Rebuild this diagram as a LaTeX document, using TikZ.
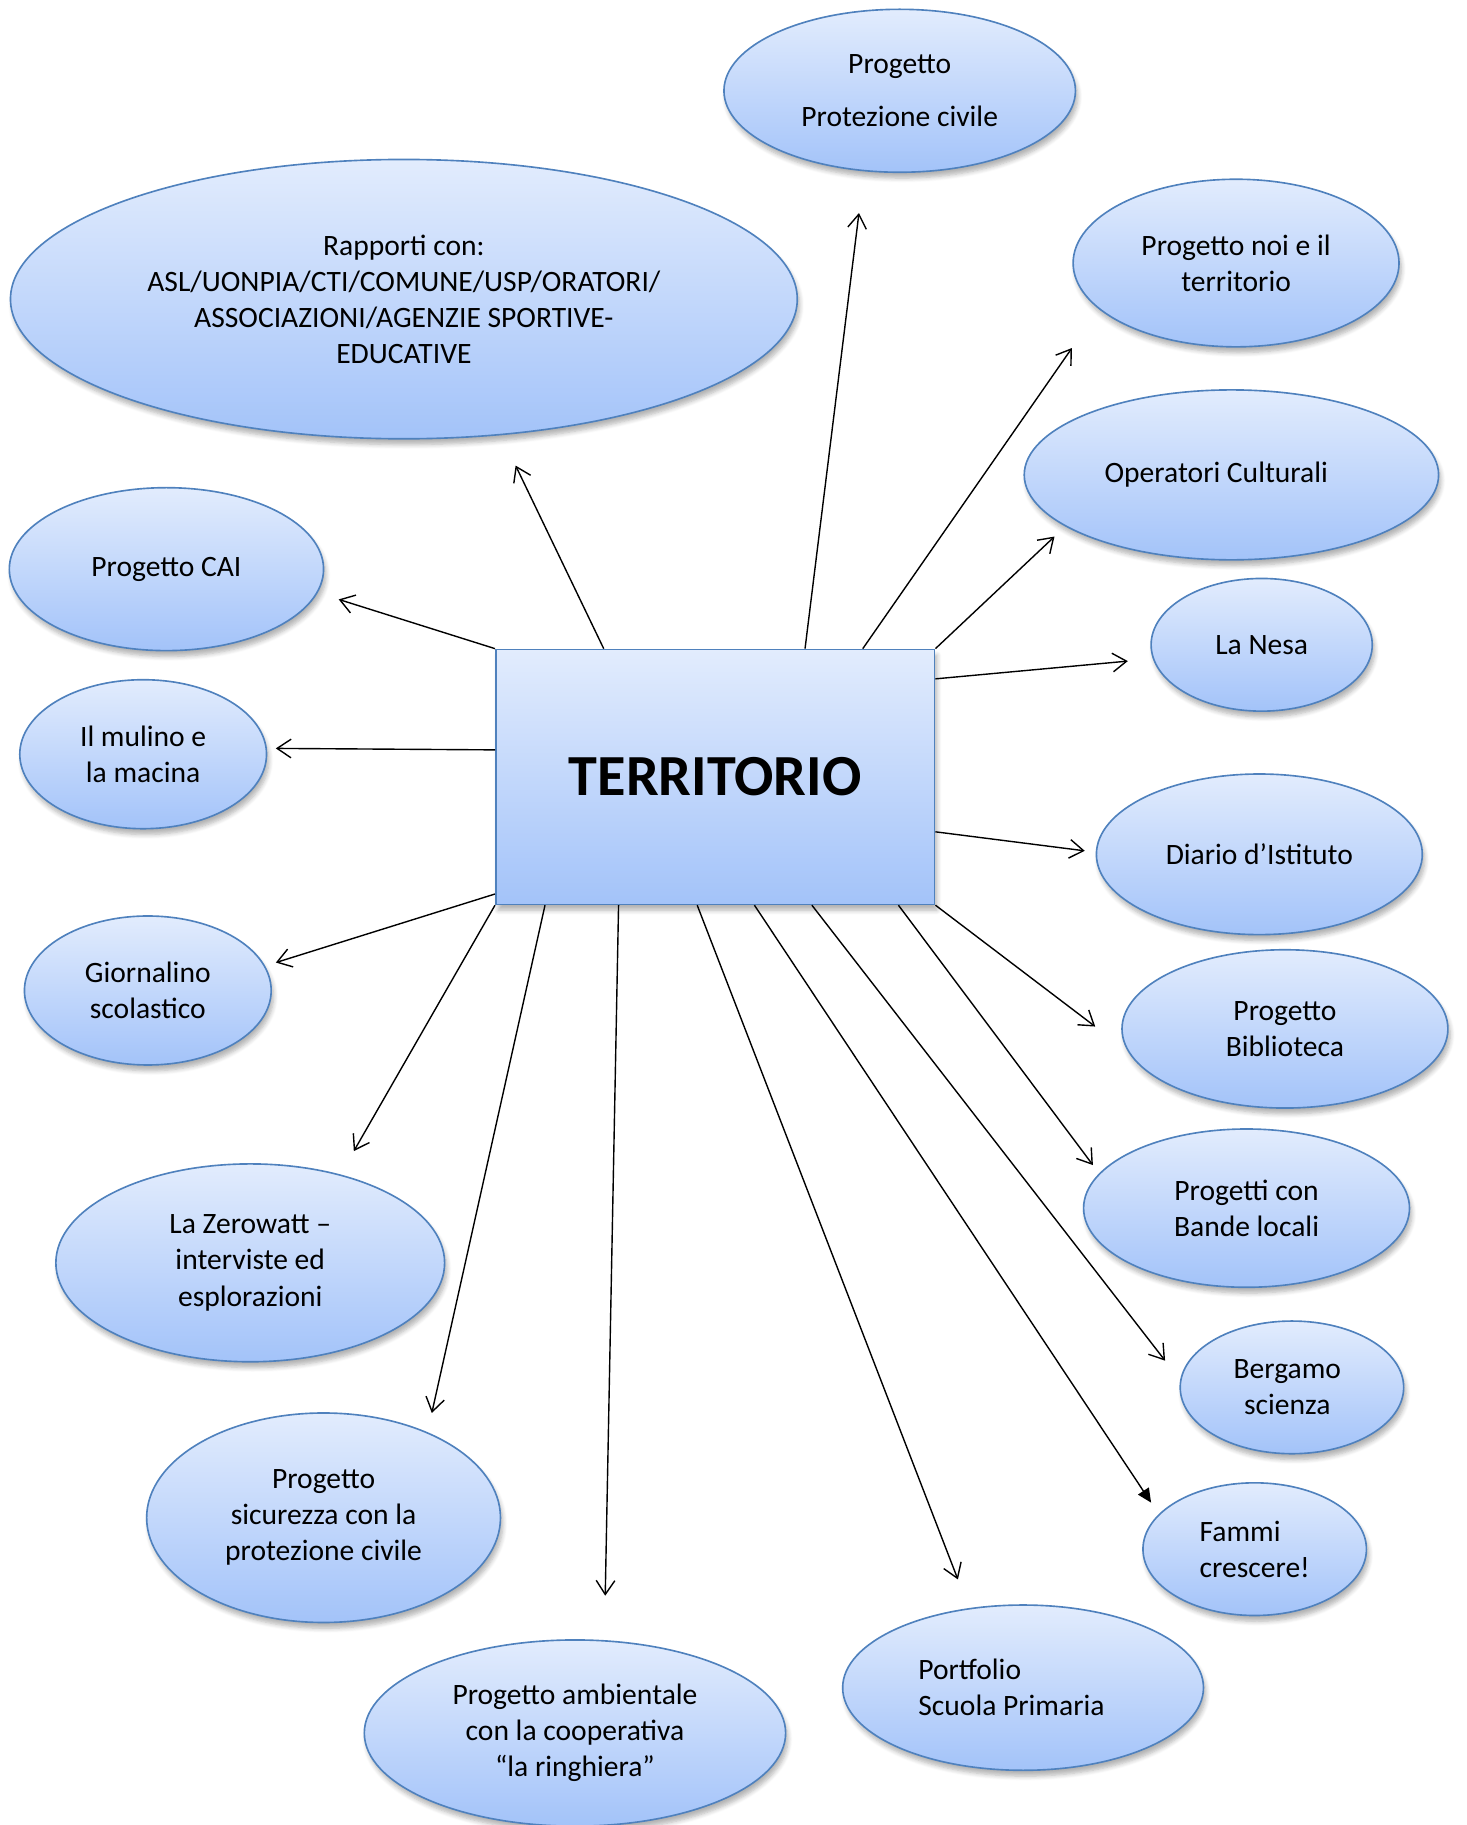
\documentclass[tikz,border=0pt]{standalone}
\usepackage{fontspec}
\setmainfont{Carlito}
\usepackage{tikz}
\usetikzlibrary{shapes.geometric,arrows.meta,shadows.blur}

\definecolor{bubtop}{RGB}{226,236,253}
\definecolor{bubbot}{RGB}{163,195,249}
\definecolor{bubline}{RGB}{79,129,189}

\begin{document}
\begin{tikzpicture}[x=0.5pt, y=-0.5pt,
  bubble/.style={ellipse, draw=bubline, line width=0.7pt, top color=bubtop, bottom color=bubbot,
                 inner sep=0pt, align=center, font=\fontsize{12.7}{15.5}\selectfont,
                 blur shadow={shadow xshift=1pt, shadow yshift=-2.5pt, shadow blur steps=6, shadow opacity=30}},
  hub/.style={rectangle, draw=bubline, line width=0.7pt, top color=bubtop, bottom color=bubbot,
              minimum width=188.5pt, minimum height=109.5pt, inner sep=0pt,
              font=\fontsize{25}{30}\selectfont\bfseries,
              blur shadow={shadow xshift=1pt, shadow yshift=-2.5pt, shadow blur steps=6, shadow opacity=30}},
  arr/.style={-{Straight Barb[length=6pt,width=8pt]}, line width=0.6pt},
  arrf/.style={-{Triangle[length=6pt,width=5.5pt]}, line width=0.6pt}
]
\useasboundingbox (0,0) rectangle (1260,1568);

\node[hub] (terr) at (614.5,667.5) {TERRITORIO};

\node[bubble, minimum width=151pt, minimum height=70pt]  (prot) at (773,78)   {Progetto\\[7.5pt]Protezione civile};
\node[bubble, minimum width=338pt, minimum height=120pt] (rapp) at (347,257)  {Rapporti con:\\ASL/UONPIA/CTI/COMUNE/USP/ORATORI/\\ASSOCIAZIONI/AGENZIE SPORTIVE-\\EDUCATIVE};
\node[bubble, minimum width=140pt, minimum height=72pt]  (noi)  at (1062,226) {Progetto noi e il\\territorio};
\node[bubble, minimum width=178pt, minimum height=73pt]  (oper) at (1058,408) {Operatori Culturali\hspace*{13pt}};
\node[bubble, minimum width=95pt,  minimum height=57pt]  (nesa) at (1084,554) {La Nesa};
\node[bubble, minimum width=135pt, minimum height=70pt]  (cai)  at (143,489)  {Progetto CAI};
\node[bubble, minimum width=106pt, minimum height=64pt]  (mul)  at (123,648)  {Il mulino e\\la macina};
\node[bubble, minimum width=140pt, minimum height=69pt]  (diar) at (1082,734) {Diario d’Istituto};
\node[bubble, minimum width=106pt, minimum height=64pt]  (gior) at (127,851)  {Giornalino\\scolastico};
\node[bubble, minimum width=140pt, minimum height=68pt]  (bibl) at (1104,884) {Progetto\\Biblioteca};
\node[bubble, minimum width=167pt, minimum height=85pt]  (zero) at (215,1085) {La Zerowatt –\\interviste ed\\esplorazioni};
\node[bubble, minimum width=140pt, minimum height=68pt]  (band) at (1071,1038) {Progetti con\\Bande locali};
\node[bubble, minimum width=96pt,  minimum height=57pt]  (berg) at (1110,1192) {Bergamo\hspace*{4pt}\\scienza\hspace*{4pt}};
\node[bubble, minimum width=152pt, minimum height=90pt]  (sicu) at (278,1304) {Progetto\\sicurezza con la\\protezione civile};
\node[bubble, minimum width=96pt,  minimum height=57pt, align=left] (famm) at (1078,1331) {Fammi\\crescere!};
\node[bubble, minimum width=181pt, minimum height=80pt]  (amb)  at (494,1489) {Progetto ambientale\\con la cooperativa\\“la ringhiera”};
\node[bubble, minimum width=155pt, minimum height=71pt, align=left] (port) at (879,1450) {Portfolio\\Scuola Primaria\hspace*{10pt}};

\coordinate (t-prot) at (738,183);
\coordinate (t-rapp) at (443,400);
\coordinate (t-noi)  at (921,299);
\coordinate (t-oper) at (906,461);
\coordinate (t-nesa) at (969,568);
\coordinate (t-cai)  at (291,515);
\coordinate (t-mul)  at (237,643);
\coordinate (t-diar) at (932,731);
\coordinate (t-gior) at (237,827);
\coordinate (t-bibl) at (941,882);
\coordinate (t-zero) at (304,989);
\coordinate (t-band) at (939,1001);
\coordinate (t-berg) at (1001,1169);
\coordinate (t-sicu) at (371,1214);
\coordinate (t-famm) at (989,1291);
\coordinate (t-amb)  at (520,1371);
\coordinate (t-port) at (823,1357);

\foreach \a/\t in {55/prot, 131/rapp, 41/noi, north east/oper, 24/nesa, north west/cai,
                   173/mul, 346/diar, 208/gior, south east/bibl, south west/zero, 325/band,
                   307/berg, 217/sicu, 233/amb, 262/port}
  \draw[arr] (terr.\a) -- (t-\t);
\draw[arrf] (terr.287) -- (t-famm);
\end{tikzpicture}
\end{document}
